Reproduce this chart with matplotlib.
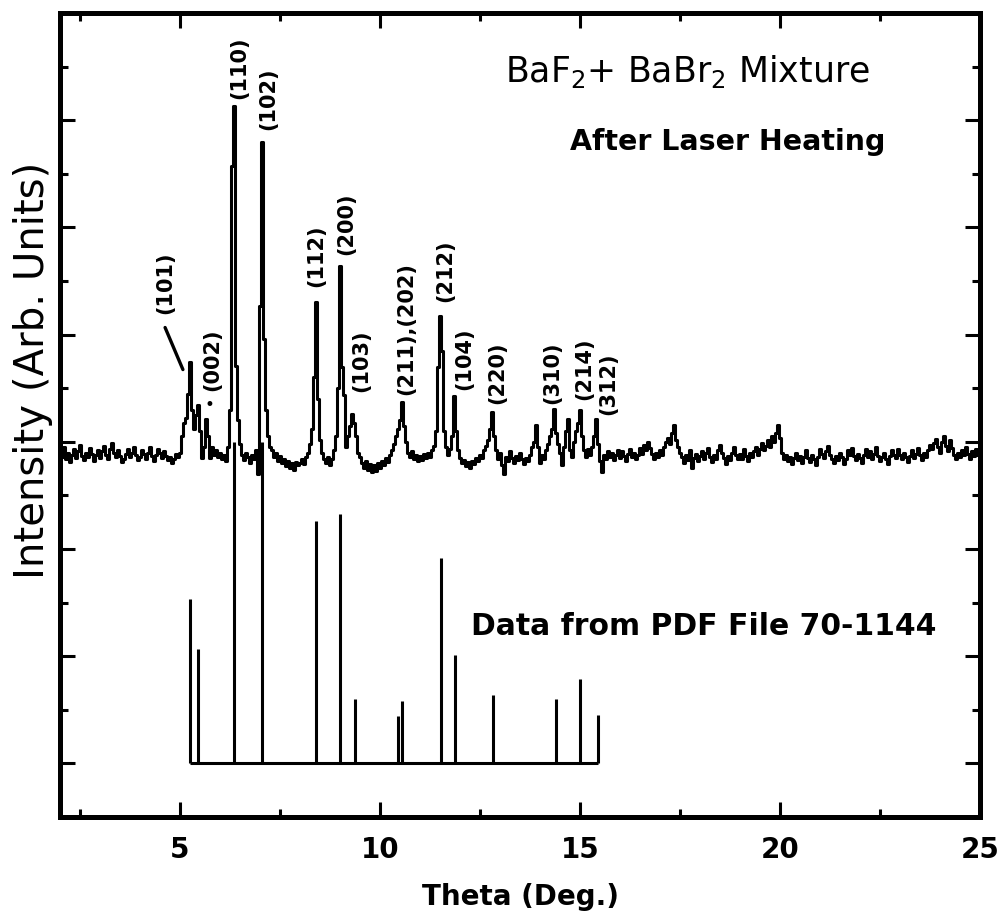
import numpy as np
import matplotlib
matplotlib.use("Agg")
import matplotlib.pyplot as plt

# measured XRD trace, 0.05 deg steps from 2.00 to 25.00 deg (one row per degree)
intensity = [
    2.92, 2.86, 2.95, 2.84, 2.90, 2.81, 2.88, 2.93, 2.85, 2.91, 2.97, 2.87, 2.83, 2.90, 2.86, 2.94, 2.89, 2.82, 2.88, 2.92,
    2.85, 2.91, 2.96, 2.88, 2.84, 2.93, 2.99, 2.90, 2.86, 2.92, 2.87, 2.81, 2.84, 2.89, 2.93, 2.86, 2.90, 2.95, 2.88, 2.83,
    2.86, 2.92, 2.89, 2.84, 2.90, 2.95, 2.87, 2.82, 2.88, 2.93, 2.90, 2.85, 2.91, 2.87, 2.83, 2.86, 2.80, 2.84, 2.89, 2.86,
    2.90, 3.05, 3.18, 3.22, 3.45, 3.74, 3.30, 3.12, 3.25, 3.34, 3.10, 2.85, 2.95, 3.21, 3.05, 2.85, 2.95, 2.88, 2.92, 2.86,
    2.90, 2.84, 2.88, 2.82, 2.95, 3.30, 5.57, 6.13, 3.71, 3.20, 2.98, 2.88, 2.83, 2.90, 2.86, 2.80, 2.88, 2.84, 2.92, 2.70,
    4.27, 5.80, 3.96, 3.30, 3.05, 2.95, 2.92, 2.86, 2.90, 2.82, 2.87, 2.80, 2.84, 2.77, 2.82, 2.76, 2.80, 2.74, 2.81, 2.78,
    2.80, 2.84, 2.79, 2.86, 2.90, 2.98, 3.12, 3.60, 4.30, 3.40, 3.02, 2.90, 2.84, 2.80, 2.86, 2.78, 2.84, 2.92, 3.05, 3.50,
    4.64, 3.70, 3.44, 2.95, 3.05, 3.15, 3.26, 3.18, 3.05, 2.90, 2.86, 2.80, 2.76, 2.82, 2.74, 2.79, 2.72, 2.78, 2.73, 2.80,
    2.76, 2.82, 2.78, 2.85, 2.81, 2.88, 2.92, 2.98, 3.05, 3.12, 3.20, 3.37, 3.15, 3.00, 2.90, 2.86, 2.91, 2.84, 2.88, 2.82,
    2.87, 2.83, 2.89, 2.85, 2.90, 2.86, 2.92, 2.96, 3.10, 3.70, 4.17, 3.85, 3.10, 2.95, 2.88, 2.93, 3.05, 3.43, 3.10, 2.92,
    2.85, 2.80, 2.83, 2.77, 2.81, 2.76, 2.82, 2.79, 2.85, 2.82, 2.88, 2.85, 2.92, 2.96, 3.02, 3.12, 3.28, 3.05, 2.92, 2.84,
    2.90, 2.78, 2.70, 2.86, 2.82, 2.91, 2.85, 2.80, 2.87, 2.83, 2.90, 2.84, 2.79, 2.85, 2.82, 2.88, 2.95, 3.00, 3.16, 2.95,
    2.80, 2.88, 2.84, 2.92, 2.98, 3.05, 3.12, 3.31, 3.08, 2.98, 2.90, 2.78, 2.95, 3.10, 3.21, 2.92, 2.86, 3.00, 3.10, 3.18,
    3.30, 3.05, 2.92, 2.86, 2.93, 2.88, 2.95, 3.05, 3.21, 2.98, 2.82, 2.72, 2.88, 2.84, 2.91, 2.86, 2.90, 2.83, 2.88, 2.92,
    2.85, 2.91, 2.87, 2.82, 2.89, 2.93, 2.86, 2.90, 2.84, 2.88, 2.94, 2.89, 2.97, 2.92, 3.00, 2.94, 2.89, 2.84, 2.90, 2.86,
    2.92, 2.88, 2.95, 3.00, 3.04, 2.98, 3.08, 3.16, 3.02, 2.95, 2.90, 2.86, 2.80, 2.88, 2.83, 2.92, 2.76, 2.85, 2.89, 2.82,
    2.87, 2.91, 2.84, 2.90, 2.94, 2.86, 2.81, 2.88, 2.84, 2.92, 2.97, 2.90, 2.85, 2.79, 2.87, 2.83, 2.90, 2.95, 2.88, 2.84,
    2.89, 2.84, 2.93, 2.87, 2.82, 2.90, 2.86, 2.91, 2.95, 2.88, 2.93, 2.99, 2.92, 2.96, 3.02, 2.95, 3.05, 3.00, 3.08, 3.16,
    3.04, 2.90, 2.84, 2.88, 2.82, 2.86, 2.79, 2.85, 2.90, 2.83, 2.87, 2.80, 2.86, 2.92, 2.85, 2.81, 2.88, 2.84, 2.78, 2.86,
    2.93, 2.89, 2.85, 2.91, 2.96, 2.88, 2.84, 2.80, 2.87, 2.83, 2.90, 2.86, 2.79, 2.84, 2.92, 2.88, 2.94, 2.87, 2.83, 2.89,
    2.85, 2.80, 2.88, 2.93, 2.86, 2.91, 2.84, 2.89, 2.95, 2.87, 2.82, 2.86, 2.90, 2.84, 2.79, 2.87, 2.92, 2.88, 2.85, 2.93,
    2.88, 2.84, 2.90, 2.86, 2.81, 2.87, 2.92, 2.85, 2.89, 2.94, 2.88, 2.83, 2.90, 2.86, 2.92, 2.97, 2.93, 2.99, 3.03, 2.95,
    2.90, 3.00, 3.05, 2.96, 2.91, 3.02, 2.94, 2.88, 2.84, 2.90, 2.86, 2.92, 2.88, 2.95, 2.89, 2.84, 2.91, 2.87, 2.93, 2.88,
    2.90,
]
theta = np.round(2.0 + 0.05 * np.arange(len(intensity)), 2)

# PDF 70-1144 reference lines
pdf_theta = [5.25, 5.45, 6.35, 7.05, 8.40, 9.00, 9.38, 10.46, 10.56, 11.53, 11.88, 12.83, 14.39, 14.99, 15.44]
pdf_height = [1.53, 1.07, 3.00, 3.00, 2.26, 2.33, 0.60, 0.44, 0.58, 1.92, 1.01, 0.64, 0.60, 0.79, 0.45]

# peak labels: text, x centre, bottom of label
hkl_text = ["(110)", "(102)", "(101)", "(002)", "(112)", "(200)", "(103)", "(211),(202)",
            "(212)", "(104)", "(220)", "(310)", "(214)", "(312)"]
hkl_x = [6.48, 7.20, 4.63, 5.80, 8.40, 9.16, 9.53, 10.66, 11.63, 12.11, 12.93, 14.31, 15.11, 15.71]
hkl_y = [6.20, 5.91, 4.19, 3.47, 4.44, 4.74, 3.46, 3.44, 4.30, 3.48, 3.35, 3.35, 3.39, 3.25]

fig = plt.figure(figsize=(10.01, 9.21), dpi=100)
ax = fig.add_axes([60 / 1001, 104 / 921, 920 / 1001, 804 / 921])

ax.plot(theta, intensity, color="black", lw=2.2, drawstyle="steps-mid")
ax.vlines(pdf_theta, 0, pdf_height, color="black", lw=2.2)
ax.hlines(0, min(pdf_theta), max(pdf_theta), color="black", lw=2.2)

for t, x, y in zip(hkl_text, hkl_x, hkl_y):
    ax.text(x, y, t, rotation=90, ha="center", va="bottom", fontsize=15, fontweight="bold")
ax.text(5.73, 3.34, "•", ha="center", va="center", fontsize=12)
ax.annotate("", xy=(5.10, 3.65), xytext=(4.60, 4.09),
            arrowprops=dict(arrowstyle="-", lw=2.4, color="black"))

ax.text(0.484, 0.914, r"BaF$_2$+ BaBr$_2$ Mixture", transform=ax.transAxes,
        fontsize=25, va="baseline", ha="left")
ax.text(0.554, 0.830, "After Laser Heating", transform=ax.transAxes,
        fontsize=20.5, fontweight="bold", va="baseline", ha="left")
ax.text(0.447, 0.226, "Data from PDF File 70-1144", transform=ax.transAxes,
        fontsize=21.5, fontweight="bold", va="baseline", ha="left")

ax.set_xlim(2.0, 25.0)
ax.set_ylim(-0.5, 7.0)
ax.set_xticks([5, 10, 15, 20, 25])
ax.set_xticks(np.arange(2.5, 25, 2.5), minor=True)
ax.set_yticks(np.arange(0, 7, 1))
ax.set_yticks(np.arange(-0.5, 7, 0.5), minor=True)
ax.set_yticklabels([])
ax.tick_params(which="both", direction="in", top=True, right=True, width=2.2)
ax.tick_params(which="major", length=11)
ax.tick_params(which="minor", length=5.5)
ax.tick_params(axis="x", which="major", labelsize=20, pad=14)
for lab in ax.get_xticklabels():
    lab.set_fontweight("bold")
for sp in ax.spines.values():
    sp.set_linewidth(3.6)

ax.set_xlabel("Theta (Deg.)", fontsize=20, fontweight="bold", labelpad=13)
fig.text(33 / 1001, 1 - 370 / 921, "Intensity (Arb. Units)", rotation=90,
         ha="center", va="center", fontsize=29)

fig.savefig("out.png", dpi=100)
